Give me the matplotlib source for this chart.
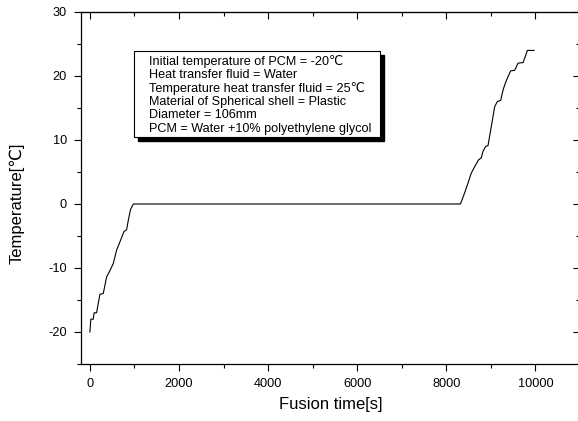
import numpy as np
import matplotlib
matplotlib.use('Agg')
from matplotlib import pyplot as plt
from matplotlib.patches import Rectangle
from matplotlib.ticker import MultipleLocator

plt.rcParams['font.family'] = ['Liberation Sans', 'DejaVu Sans']
plt.rcParams['axes.unicode_minus'] = False

# fusion time [s] and PCM temperature [C]
time_s = [0, 22, 75, 95, 150, 225, 300, 375, 450, 525, 600, 675, 765, 825,
          863, 915, 975,
          8317, 8408, 8483, 8558, 8633, 8723, 8783, 8821, 8881, 8934, 9009,
          9084, 9144, 9219, 9272, 9324, 9384, 9444, 9534, 9609, 9722, 9759,
          9819, 9969]
temp_c = [-20, -18, -18, -17, -17, -14.1, -14, -11.4, -10.4, -9.3, -7.2, -5.9,
          -4.3, -4.0, -2.5, -0.8, 0,
          0, 1.7, 3.2, 4.8, 5.8, 6.9, 7.2, 8.2, 9.0, 9.1, 12.1,
          15.2, 16.0, 16.2, 17.8, 18.9, 19.9, 20.8, 20.9, 22.0, 22.1, 22.8,
          24.0, 24.0]

info_lines = ['Initial temperature of PCM = -20\u2103',
              'Heat transfer fluid = Water',
              'Temperature heat transfer fluid = 25\u2103',
              'Material of Spherical shell = Plastic',
              'Diameter = 106mm',
              'PCM = Water +10% polyethylene glycol']

fig = plt.figure(figsize=(5.78, 4.21), dpi=100)
ax = fig.add_axes([0.1401, 0.1354, 0.8634, 0.8361])

ax.plot(time_s, temp_c, color='black', linewidth=0.8)

ax.set_xlim(-200, 11000)
ax.set_ylim(-25, 30)
ax.xaxis.set_major_locator(MultipleLocator(2000))
ax.xaxis.set_minor_locator(MultipleLocator(1000))
ax.yaxis.set_major_locator(MultipleLocator(10))
ax.yaxis.set_minor_locator(MultipleLocator(5))

ax.tick_params(which='both', direction='out', labelsize=9.2, width=0.8, pad=5)
ax.tick_params(which='major', length=5)
ax.tick_params(which='minor', length=3)
for sp in ax.spines.values():
    sp.set_linewidth(0.9)

# inward ticks on top and right like the original
top = ax.secondary_xaxis('top')
top.xaxis.set_major_locator(MultipleLocator(2000))
top.xaxis.set_minor_locator(MultipleLocator(1000))
top.tick_params(which='both', direction='in', labeltop=False, width=0.8)
top.tick_params(which='major', length=5)
top.tick_params(which='minor', length=3)
right = ax.secondary_yaxis('right')
right.yaxis.set_major_locator(MultipleLocator(10))
right.yaxis.set_minor_locator(MultipleLocator(5))
right.tick_params(which='both', direction='in', labelright=False, width=0.8)
right.tick_params(which='major', length=5)
right.tick_params(which='minor', length=3)

ax.set_xlabel('Fusion time[s]', fontsize=12, labelpad=5)
ax.set_ylabel('Temperature[\u2103]', fontsize=12)
ax.yaxis.set_label_coords(-0.112, 0.457)

# info box with drop shadow
bx, by, bw, bh = 0.1062, 0.645, 0.493, 0.244
ax.add_patch(Rectangle((bx + 0.009, by - 0.012), bw, bh, transform=ax.transAxes,
                       facecolor='black', edgecolor='black', zorder=4))
ax.add_patch(Rectangle((bx, by), bw, bh, transform=ax.transAxes,
                       facecolor='white', edgecolor='black', linewidth=0.8, zorder=5))
ax.text(bx + 0.03, by + bh - 0.01, '\n'.join(info_lines), transform=ax.transAxes,
        fontsize=9.1, va='top', ha='left', linespacing=1.13, zorder=6)

plt.savefig('out.png', dpi=100)
print('Complete')
